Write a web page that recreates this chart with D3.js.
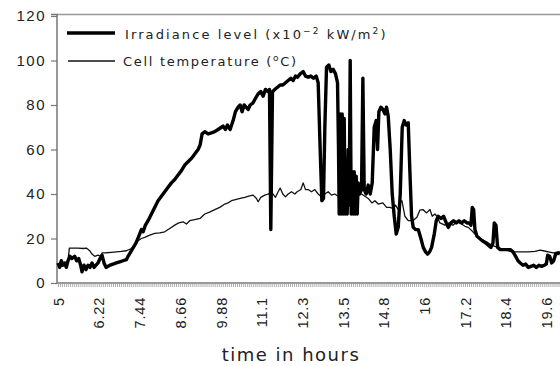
<!DOCTYPE html>
<html>
<head>
<meta charset="utf-8">
<script src="https://cdn.jsdelivr.net/npm/d3@7"></script>
<style>
  body { margin: 0; background: #fff; }
  svg { display: block; font-family: "DejaVu Sans", sans-serif; }
</style>
</head>
<body>
<svg width="560" height="366"></svg>
<script>
// irradiance level (x10^-2 kW/m2), [hour, value]
const irradiance = [
  [5.00, 9], [5.05, 7], [5.10, 10], [5.15, 8], [5.20, 9], [5.25, 7], [5.30, 10], [5.36, 12],
  [5.42, 11], [5.50, 12], [5.56, 10], [5.62, 11], [5.68, 8], [5.72, 5], [5.78, 8], [5.84, 6],
  [5.90, 8], [5.96, 7], [6.02, 9], [6.08, 7], [6.14, 8], [6.20, 9], [6.26, 11], [6.32, 12.5],
  [6.38, 9], [6.44, 7], [6.50, 7.5], [6.56, 8], [6.65, 8.5], [6.75, 9], [6.85, 9.5], [6.95, 10],
  [7.05, 10.5], [7.10, 12], [7.18, 14], [7.26, 16], [7.34, 18], [7.42, 21], [7.50, 24], [7.55, 23],
  [7.62, 26], [7.70, 28], [7.85, 32.5], [8.00, 37], [8.10, 39], [8.20, 41], [8.30, 43], [8.40, 45],
  [8.50, 46.5], [8.60, 48.5], [8.70, 50.5], [8.80, 53], [8.90, 54.5], [9.00, 56], [9.10, 58], [9.20, 60],
  [9.26, 62], [9.32, 67], [9.40, 68], [9.50, 67], [9.60, 67.5], [9.70, 68], [9.80, 69], [9.90, 70],
  [9.95, 70.5], [10.02, 69], [10.08, 71], [10.16, 69], [10.25, 73], [10.32, 77], [10.40, 79], [10.46, 80],
  [10.52, 77], [10.58, 80], [10.64, 79], [10.70, 78], [10.76, 80], [10.85, 81], [10.92, 83], [11.00, 85],
  [11.08, 86], [11.15, 84], [11.22, 87], [11.30, 86], [11.34, 87], [11.38, 24], [11.43, 86], [11.50, 87],
  [11.58, 88], [11.66, 89], [11.74, 89], [11.82, 90], [11.90, 91], [11.98, 92], [12.05, 91], [12.12, 93],
  [12.18, 92.5], [12.26, 94], [12.35, 95], [12.42, 93], [12.50, 92.5], [12.58, 93], [12.66, 92], [12.74, 93],
  [12.80, 90], [12.86, 60], [12.91, 37], [12.96, 38], [13.00, 70], [13.05, 97], [13.12, 98], [13.18, 95],
  [13.25, 96], [13.32, 94], [13.38, 90], [13.41, 60], [13.43, 31], [13.46, 76], [13.49, 31], [13.52, 76],
  [13.55, 31], [13.58, 74], [13.61, 31], [13.64, 55], [13.67, 31], [13.70, 60], [13.73, 35], [13.76, 100],
  [13.79, 31], [13.82, 50], [13.85, 31], [13.88, 50], [13.91, 31], [13.94, 48], [13.97, 31], [14.00, 45],
  [14.04, 40], [14.10, 42], [14.14, 92], [14.18, 42], [14.24, 40], [14.30, 44], [14.36, 40],
  [14.42, 45], [14.48, 70], [14.54, 73], [14.58, 60], [14.62, 77], [14.68, 79], [14.74, 78], [14.80, 76],
  [14.85, 79], [14.90, 75], [14.96, 60], [15.02, 40], [15.08, 30], [15.14, 22], [15.20, 25], [15.26, 40],
  [15.32, 70], [15.38, 73], [15.44, 71], [15.50, 72], [15.55, 50], [15.60, 30], [15.65, 25], [15.72, 24],
  [15.80, 24], [15.88, 20], [15.95, 16], [16.02, 14], [16.08, 13], [16.14, 14], [16.20, 16], [16.28, 22],
  [16.34, 28], [16.40, 30], [16.48, 29], [16.56, 30], [16.64, 27], [16.70, 25], [16.78, 27], [16.86, 28],
  [16.94, 27], [17.02, 28], [17.10, 27], [17.18, 28], [17.26, 27], [17.32, 27], [17.38, 26], [17.42, 34],
  [17.46, 33], [17.50, 24], [17.56, 21], [17.64, 20], [17.72, 19], [17.82, 18], [17.90, 17], [17.98, 16],
  [18.04, 18], [18.08, 27], [18.13, 26], [18.18, 16], [18.26, 15], [18.36, 15], [18.46, 15], [18.56, 15],
  [18.64, 14], [18.72, 12], [18.79, 10], [18.86, 9], [18.94, 8], [19.02, 8.5], [19.10, 7], [19.18, 7.5],
  [19.26, 8], [19.34, 7], [19.42, 8], [19.50, 7.5], [19.58, 8], [19.64, 8.5], [19.68, 12.5], [19.74, 12],
  [19.80, 9], [19.86, 10], [19.92, 13], [20.00, 13.5], [20.05, 13]
];

// cell temperature (oC), [hour, value]
const temperature = [
  [5.00, 8], [5.06, 9], [5.12, 7.5], [5.18, 9], [5.24, 8], [5.30, 10], [5.34, 15.7], [5.45, 15.7],
  [5.60, 15.7], [5.75, 15.5], [5.85, 15.7], [5.95, 14.5], [6.02, 13], [6.10, 12], [6.20, 12.5], [6.28, 12],
  [6.32, 13.5], [6.45, 13.6], [6.60, 13.8], [6.75, 14], [6.90, 14.2], [7.05, 14.5], [7.20, 15.5], [7.30, 17],
  [7.40, 19], [7.50, 20], [7.60, 20.5], [7.75, 21.5], [7.90, 22.3], [8.05, 22.5], [8.20, 23], [8.35, 24.5],
  [8.50, 26], [8.62, 27], [8.75, 27.5], [8.85, 26.5], [8.95, 28], [9.10, 28.5], [9.26, 29], [9.40, 31],
  [9.56, 32], [9.70, 33], [9.85, 34], [10.00, 35.5], [10.10, 36], [10.20, 37], [10.32, 37.5], [10.46, 38],
  [10.60, 38.5], [10.72, 39], [10.85, 39.5], [10.95, 38], [11.00, 36.5], [11.08, 38.5], [11.20, 39.5], [11.30, 40],
  [11.42, 40.5], [11.52, 38.5], [11.60, 41], [11.66, 42.7], [11.74, 40], [11.82, 38.7], [11.90, 40], [12.00, 41],
  [12.10, 40], [12.17, 41], [12.28, 42], [12.35, 45], [12.42, 42], [12.50, 42], [12.60, 41], [12.70, 42],
  [12.80, 40], [12.90, 38.7], [13.00, 40], [13.10, 41], [13.20, 39.5], [13.30, 40], [13.40, 39], [13.50, 40],
  [13.60, 39], [13.70, 40], [13.80, 39], [13.90, 40], [14.00, 39.5], [14.10, 40], [14.20, 39], [14.30, 38],
  [14.41, 36], [14.50, 37], [14.60, 35.5], [14.74, 36], [14.85, 34], [14.95, 34], [15.04, 33.5], [15.12, 35],
  [15.20, 33], [15.26, 36], [15.31, 37], [15.40, 30], [15.50, 28], [15.64, 28], [15.76, 29.6], [15.85, 32.8],
  [15.94, 33], [16.05, 31.5], [16.15, 33], [16.22, 30], [16.30, 31], [16.36, 30], [16.45, 27], [16.60, 26],
  [16.72, 27], [16.84, 26], [16.96, 27.5], [17.10, 26.5], [17.20, 25.5], [17.30, 25], [17.44, 23], [17.56, 21],
  [17.70, 19.5], [17.86, 18.4], [18.00, 17], [18.10, 16.5], [18.20, 15.7], [18.35, 15], [18.50, 14.5], [18.70, 14],
  [18.90, 14], [19.10, 14], [19.30, 14.2], [19.45, 14.8], [19.55, 14.5], [19.70, 14], [19.85, 13.5], [20.00, 14],
  [20.05, 13.8]
];

const xTickValues = [5, 6.22, 7.44, 8.66, 9.88, 11.1, 12.32, 13.54, 14.76, 15.98, 17.2, 18.42, 19.64];
const xTickLabels = ["5", "6.22", "7.44", "8.66", "9.88", "11.1", "12.3", "13.5", "14.8", "16", "17.2", "18.4", "19.6"];
const yTickValues = [0, 20, 40, 60, 80, 100, 120];

const svg = d3.select("svg");
const pLeft = 57, pRight = 560, pTop = 14, pBottom = 283;

const x = d3.scaleLinear().domain([5, 20.05]).range([pLeft + 1, pRight]);
const y = d3.scaleLinear().domain([0, 120]).range([pBottom, pTop + 2]);

// top border
svg.append("line")
  .attr("x1", pLeft).attr("x2", pRight)
  .attr("y1", pTop + 0.5).attr("y2", pTop + 0.5)
  .attr("stroke", "#999").attr("stroke-width", 1.5);

// y axis
const yAxis = svg.append("g")
  .attr("transform", `translate(${pLeft},0)`)
  .call(d3.axisLeft(y).tickValues(yTickValues).tickSize(6).tickPadding(5));
yAxis.select(".domain").attr("stroke", "#777").attr("stroke-width", 1.5)
  .attr("d", `M-6,${pTop + 0.5}H0V${pBottom}`);
yAxis.selectAll(".tick line").attr("stroke", "#777").attr("stroke-width", 1.2);
yAxis.selectAll(".tick text")
  .style("font-size", "15px").style("letter-spacing", "1.5px")
  .attr("fill", "#222");

// x axis: dense minor ticks
const minor = d3.range(5, 20.06, 1.22 / 20);
const xAxis = svg.append("g")
  .attr("transform", `translate(0,${pBottom})`)
  .call(d3.axisBottom(x).tickValues(minor).tickSize(4).tickFormat(""));
xAxis.select(".domain").attr("stroke", "#777").attr("stroke-width", 1.5)
  .attr("d", `M${pLeft},0H${pRight}`);
xAxis.selectAll(".tick line").attr("stroke", "#999").attr("stroke-width", 0.8);

// x labels, rotated
const xLab = svg.append("g")
  .attr("transform", `translate(0,${pBottom})`)
  .call(d3.axisBottom(x).tickValues(xTickValues).tickSize(0)
    .tickFormat((d, i) => xTickLabels[i]));
xLab.select(".domain").remove();
xLab.selectAll(".tick text")
  .attr("transform", "rotate(-90)")
  .attr("x", -14).attr("y", 0).attr("dy", "0.36em")
  .attr("text-anchor", "end")
  .attr("fill", "#222")
  .style("font-size", "14.5px").style("letter-spacing", "0.8px");

svg.append("text")
  .attr("x", 291).attr("y", 361)
  .attr("text-anchor", "middle")
  .attr("fill", "#222")
  .style("font-size", "18px").style("letter-spacing", "1.5px")
  .text("time in hours");

// series
const line = d3.line().x(d => x(d[0])).y(d => y(d[1]));

svg.append("path")
  .datum(temperature)
  .attr("fill", "none").attr("stroke", "#111")
  .attr("stroke-width", 1.3).attr("stroke-linejoin", "round")
  .attr("d", line);

svg.append("path")
  .datum(irradiance)
  .attr("fill", "none").attr("stroke", "#000")
  .attr("stroke-width", 3.4).attr("stroke-linejoin", "round")
  .attr("d", line);

// legend
const legend = svg.append("g");
legend.append("line")
  .attr("x1", 67).attr("x2", 115).attr("y1", 33).attr("y2", 33)
  .attr("stroke", "#000").attr("stroke-width", 3.4);
legend.append("line")
  .attr("x1", 68).attr("x2", 115).attr("y1", 61).attr("y2", 61)
  .attr("stroke", "#111").attr("stroke-width", 1.3);

const t1 = legend.append("text")
  .attr("x", 125).attr("y", 38.5)
  .attr("fill", "#222")
  .style("font-size", "13px").style("letter-spacing", "2.1px");
t1.append("tspan").text("Irradiance level (x10");
t1.append("tspan").attr("baseline-shift", "super").style("font-size", "9px").text("\u22122");
t1.append("tspan").text(" kW/m");
t1.append("tspan").attr("baseline-shift", "super").style("font-size", "9px").text("2");
t1.append("tspan").text(")");

const t2 = legend.append("text")
  .attr("x", 123).attr("y", 66)
  .attr("fill", "#222")
  .style("font-size", "13px").style("letter-spacing", "1.7px");
t2.append("tspan").text("Cell temperature (");
t2.append("tspan").attr("baseline-shift", "super").style("font-size", "9px").text("o");
t2.append("tspan").text("C)");
</script>
</body>
</html>
